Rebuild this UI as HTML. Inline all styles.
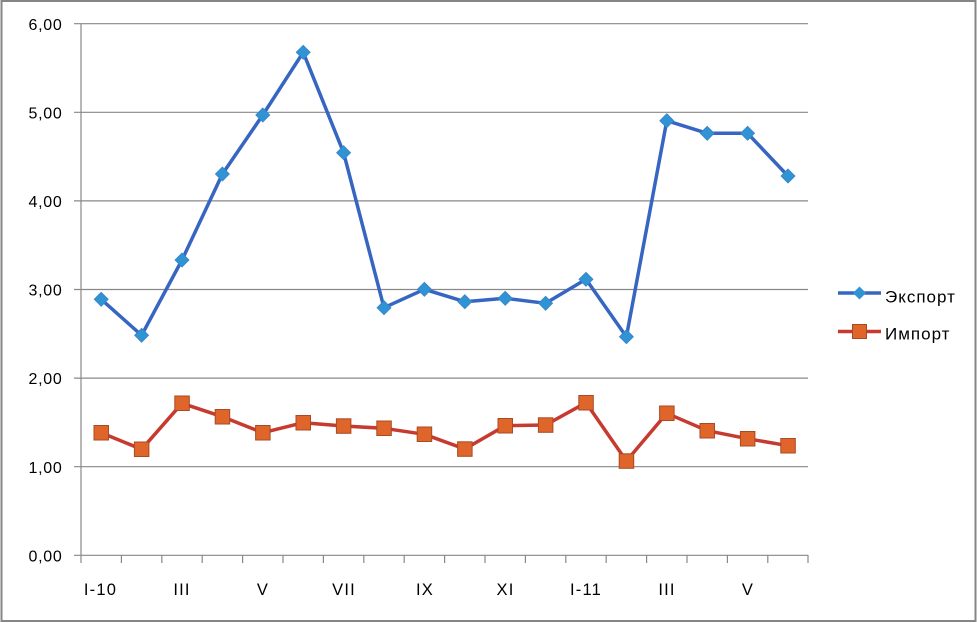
<!DOCTYPE html>
<html>
<head>
<meta charset="utf-8">
<style>
  html,body{margin:0;padding:0;background:#fff;}
  svg{display:block;}
  text{font-family:"Liberation Sans",sans-serif;fill:#000;}
</style>
</head>
<body>
<svg width="977" height="623" viewBox="0 0 977 623" xmlns="http://www.w3.org/2000/svg">
  <rect x="0" y="0" width="977" height="623" fill="#fff"/>
  <rect x="1.5" y="1" width="974" height="620" fill="none" stroke="#868686" stroke-width="2"/>

  <!-- gridlines -->
  <g stroke="#888" stroke-width="1.2">
    <line x1="74" y1="23.7" x2="808" y2="23.7"/>
    <line x1="74" y1="112.3" x2="808" y2="112.3"/>
    <line x1="74" y1="200.9" x2="808" y2="200.9"/>
    <line x1="74" y1="289.5" x2="808" y2="289.5"/>
    <line x1="74" y1="378.1" x2="808" y2="378.1"/>
    <line x1="74" y1="466.7" x2="808" y2="466.7"/>
    <line x1="74" y1="555.3" x2="808" y2="555.3"/>
    <line x1="81" y1="23.7" x2="81" y2="563"/>
  </g>
  <!-- x ticks -->
  <g stroke="#888" stroke-width="1.2">
    <line x1="121.4" y1="555" x2="121.4" y2="563"/>
    <line x1="161.8" y1="555" x2="161.8" y2="563"/>
    <line x1="202.2" y1="555" x2="202.2" y2="563"/>
    <line x1="242.6" y1="555" x2="242.6" y2="563"/>
    <line x1="283" y1="555" x2="283" y2="563"/>
    <line x1="323.4" y1="555" x2="323.4" y2="563"/>
    <line x1="363.8" y1="555" x2="363.8" y2="563"/>
    <line x1="404.2" y1="555" x2="404.2" y2="563"/>
    <line x1="444.6" y1="555" x2="444.6" y2="563"/>
    <line x1="485" y1="555" x2="485" y2="563"/>
    <line x1="525.4" y1="555" x2="525.4" y2="563"/>
    <line x1="565.8" y1="555" x2="565.8" y2="563"/>
    <line x1="606.2" y1="555" x2="606.2" y2="563"/>
    <line x1="646.6" y1="555" x2="646.6" y2="563"/>
    <line x1="687" y1="555" x2="687" y2="563"/>
    <line x1="727.4" y1="555" x2="727.4" y2="563"/>
    <line x1="767.8" y1="555" x2="767.8" y2="563"/>
    <line x1="808" y1="555" x2="808" y2="563"/>
  </g>

  <!-- y labels -->
  <g font-size="16" text-anchor="end" letter-spacing="0.7">
    <text x="62.5" y="30">6,00</text>
    <text x="62.5" y="118.5">5,00</text>
    <text x="62.5" y="207">4,00</text>
    <text x="62.5" y="295.5">3,00</text>
    <text x="62.5" y="384">2,00</text>
    <text x="62.5" y="473">1,00</text>
    <text x="62.5" y="561.5">0,00</text>
  </g>
  <!-- x labels -->
  <g font-size="16.5" text-anchor="middle" letter-spacing="1.2">
    <text x="100.5" y="595">I-10</text>
    <text x="182" y="595">III</text>
    <text x="263" y="595">V</text>
    <text x="344" y="595">VII</text>
    <text x="425" y="595">IX</text>
    <text x="505.5" y="595">XI</text>
    <text x="586" y="595">I-11</text>
    <text x="667" y="595">III</text>
    <text x="748" y="595">V</text>
  </g>

  <!-- Export line -->
  <polyline fill="none" stroke="#3766c2" stroke-width="3.5" stroke-linejoin="round"
    points="101.2,299.3 141.6,335.3 182,260 222.4,174 262.8,115 303.2,52.3 343.6,152.7 384,307.7 424.4,289.3 464.8,301.7 505.2,298.3 545.6,303.3 586,279.3 626.4,336.7 666.8,120.7 707.2,133.3 747.6,133.3 788,176"/>
  <!-- Import line -->
  <polyline fill="none" stroke="#c63a30" stroke-width="3.5" stroke-linejoin="round"
    points="101.2,432.7 141.6,449.3 182,403.3 222.4,416.7 262.8,432.7 303.2,422.7 343.6,426 384,428.3 424.4,434.3 464.8,449 505.2,425.7 545.6,425 586,402.7 626.4,461 666.8,413.3 707.2,430.7 747.6,438.7 788,445.7"/>

  <!-- Export markers -->
  <g fill="#2f93d4" stroke="#3a86c8" stroke-width="0.8">
    <path d="M101.2,292.3 l7,7 l-7,7 l-7,-7z"/>
    <path d="M141.6,328.3 l7,7 l-7,7 l-7,-7z"/>
    <path d="M182,253 l7,7 l-7,7 l-7,-7z"/>
    <path d="M222.4,167 l7,7 l-7,7 l-7,-7z"/>
    <path d="M262.8,108 l7,7 l-7,7 l-7,-7z"/>
    <path d="M303.2,45.3 l7,7 l-7,7 l-7,-7z"/>
    <path d="M343.6,145.7 l7,7 l-7,7 l-7,-7z"/>
    <path d="M384,300.7 l7,7 l-7,7 l-7,-7z"/>
    <path d="M424.4,282.3 l7,7 l-7,7 l-7,-7z"/>
    <path d="M464.8,294.7 l7,7 l-7,7 l-7,-7z"/>
    <path d="M505.2,291.3 l7,7 l-7,7 l-7,-7z"/>
    <path d="M545.6,296.3 l7,7 l-7,7 l-7,-7z"/>
    <path d="M586,272.3 l7,7 l-7,7 l-7,-7z"/>
    <path d="M626.4,329.7 l7,7 l-7,7 l-7,-7z"/>
    <path d="M666.8,113.7 l7,7 l-7,7 l-7,-7z"/>
    <path d="M707.2,126.3 l7,7 l-7,7 l-7,-7z"/>
    <path d="M747.6,126.3 l7,7 l-7,7 l-7,-7z"/>
    <path d="M788,169 l7,7 l-7,7 l-7,-7z"/>
  </g>
  <!-- Import markers -->
  <g fill="#e0652a" stroke="#a84a24" stroke-width="1">
    <rect x="94" y="425.5" width="14.5" height="14.5"/>
    <rect x="134.4" y="442" width="14.5" height="14.5"/>
    <rect x="174.8" y="396" width="14.5" height="14.5"/>
    <rect x="215.2" y="409.5" width="14.5" height="14.5"/>
    <rect x="255.6" y="425.5" width="14.5" height="14.5"/>
    <rect x="296" y="415.5" width="14.5" height="14.5"/>
    <rect x="336.4" y="418.8" width="14.5" height="14.5"/>
    <rect x="376.8" y="421" width="14.5" height="14.5"/>
    <rect x="417.2" y="427" width="14.5" height="14.5"/>
    <rect x="457.6" y="441.8" width="14.5" height="14.5"/>
    <rect x="498" y="418.5" width="14.5" height="14.5"/>
    <rect x="538.4" y="417.8" width="14.5" height="14.5"/>
    <rect x="578.8" y="395.5" width="14.5" height="14.5"/>
    <rect x="619.2" y="453.8" width="14.5" height="14.5"/>
    <rect x="659.6" y="406" width="14.5" height="14.5"/>
    <rect x="700" y="423.5" width="14.5" height="14.5"/>
    <rect x="740.4" y="431.5" width="14.5" height="14.5"/>
    <rect x="780.8" y="438.5" width="14.5" height="14.5"/>
  </g>

  <!-- Legend -->
  <line x1="838" y1="293" x2="881" y2="293" stroke="#3766c2" stroke-width="3.5"/>
  <path d="M859.5,286.5 l6.5,6.5 l-6.5,6.5 l-6.5,-6.5z" fill="#2f93d4"/>
  <text x="885" y="302.5" font-size="17" letter-spacing="1">Экспорт</text>
  <line x1="838" y1="331.5" x2="881" y2="331.5" stroke="#c63a30" stroke-width="3.5"/>
  <rect x="852.5" y="324.5" width="14" height="14" fill="#e0652a" stroke="#a84a24" stroke-width="1"/>
  <text x="885" y="339.5" font-size="17" letter-spacing="1">Импорт</text>
</svg>
</body>
</html>
